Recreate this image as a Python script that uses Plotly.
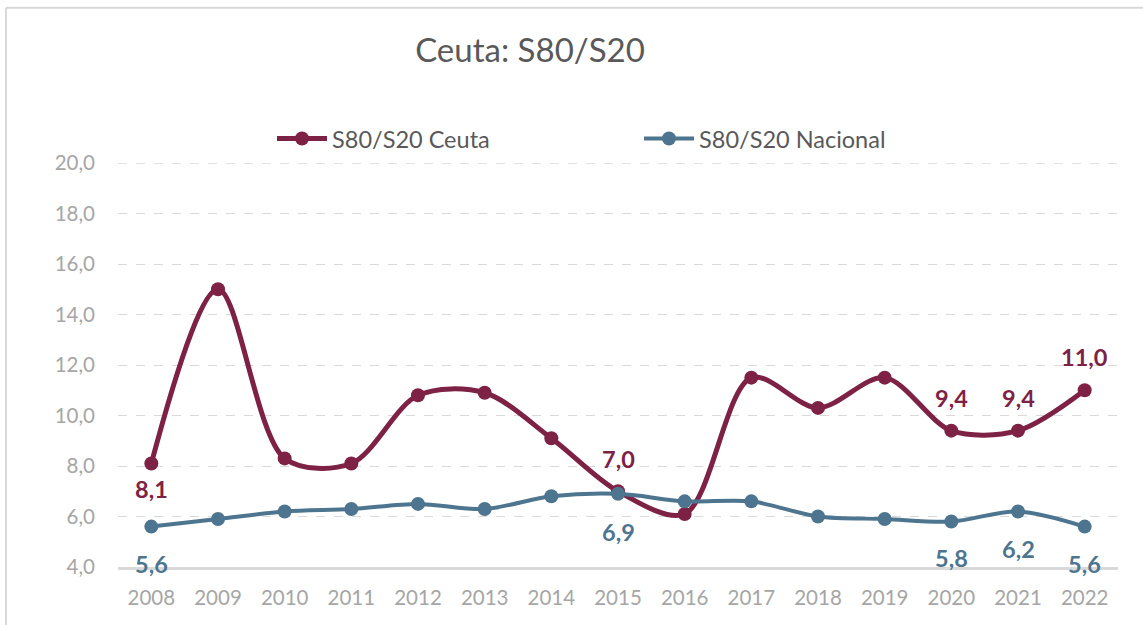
import plotly.graph_objects as go

# S80/S20 income inequality ratio, Ceuta vs. national average
years = list(range(2008, 2023))
ceuta = [8.1, 15.0, 8.3, 8.1, 10.8, 10.9, 9.1, 7.0, 6.1, 11.5, 10.3, 11.5, 9.4, 9.4, 11.0]
nacional = [5.6, 5.9, 6.2, 6.3, 6.5, 6.3, 6.8, 6.9, 6.6, 6.6, 6.0, 5.9, 5.8, 6.2, 5.6]

# years whose values get a data label, and the vertical offset (px) of that label
ceuta_labels = {2008: -26, 2015: 32, 2020: 33, 2021: 33, 2022: 33}
nacional_labels = {2008: -37, 2015: -38, 2020: -36, 2021: -38, 2022: -37}

y_ticks = [4, 6, 8, 10, 12, 14, 16, 18, 20]

C_CEUTA = "#7e2245"
C_NAC = "#4e758f"
FONT = "Lato"

fig = go.Figure()
fig.add_trace(go.Scatter(
    x=years, y=ceuta, name="S80/S20 Ceuta", mode="lines+markers",
    line=dict(color=C_CEUTA, width=5, shape="spline", smoothing=0.9),
    marker=dict(color=C_CEUTA, size=14),
))
fig.add_trace(go.Scatter(
    x=years, y=nacional, name="S80/S20 Nacional", mode="lines+markers",
    line=dict(color=C_NAC, width=4, shape="spline", smoothing=0.9),
    marker=dict(color=C_NAC, size=14),
))


def fmt(v):
    return f"{v:.1f}".replace(".", ",")


annotations = []
for series, labels, color in ((ceuta, ceuta_labels, C_CEUTA), (nacional, nacional_labels, C_NAC)):
    for yr, shift in labels.items():
        v = series[years.index(yr)]
        annotations.append(dict(
            x=yr, y=v, text=fmt(v), showarrow=False, yshift=shift,
            xanchor="center", yanchor="middle",
            font=dict(family=FONT, size=23.5, color=color, weight="bold"),
        ))

shapes = [
    # outer chart frame (left and top edges)
    dict(type="line", xref="paper", yref="paper", x0=-0.112, x1=-0.112, y0=-0.3, y1=1.384,
         line=dict(color="#d9d9d9", width=2)),
    dict(type="line", xref="paper", yref="paper", x0=-0.112, x1=1.2, y0=1.384, y1=1.384,
         line=dict(color="#d9d9d9", width=2)),
    # gridline at the top of the value axis
    dict(type="line", xref="paper", yref="y", x0=0, x1=1, y0=y_ticks[-1], y1=y_ticks[-1],
         line=dict(color="#d9d9d9", width=1.3, dash="dash"), layer="below"),
]

fig.update_layout(
    width=1143, height=625,
    margin=dict(l=118, r=25, t=163, b=58),
    paper_bgcolor="white", plot_bgcolor="white",
    separators=",.",
    font=dict(family=FONT, color="#a6a6a6", size=20),
    title=dict(text="Ceuta: S80/S20", x=0.4637, xanchor="center", y=0.92, yanchor="middle",
               font=dict(family=FONT, size=33, color="#595959")),
    legend=dict(orientation="h", x=0.154, xanchor="left", y=1.06, yanchor="middle",
                font=dict(family=FONT, size=23.5, color="#595959"),
                entrywidth=302, entrywidthmode="pixels", itemwidth=50,
                bgcolor="rgba(0,0,0,0)"),
    xaxis=dict(range=[2007.5, 2022.5], tickvals=years, tickformat="d", showgrid=False,
               showline=True, linecolor="#d9d9d9", linewidth=3, ticks="",
               ticklabelstandoff=10, zeroline=False,
               tickfont=dict(family=FONT, size=20.5, color="#a6a6a6")),
    yaxis=dict(range=[4, 20], tickvals=y_ticks, tickformat=".1f", showgrid=True,
               gridcolor="#d9d9d9", griddash="dash", gridwidth=1.3, zeroline=False,
               showline=False, ticks="", ticklabelstandoff=22,
               tickfont=dict(family=FONT, size=20.5, color="#a6a6a6")),
    annotations=annotations,
    shapes=shapes,
    showlegend=True,
)

fig.write_html("out.html")
